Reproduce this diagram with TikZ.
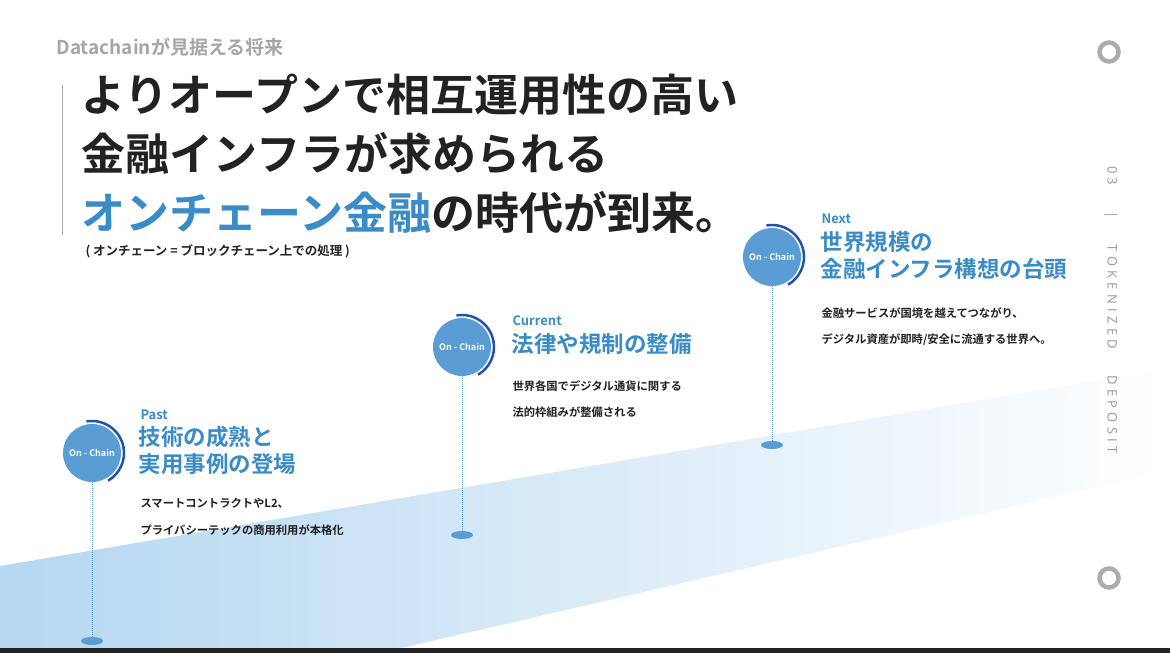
\documentclass[tikz,border=0pt]{standalone}
\usetikzlibrary{shapes.geometric}
\usepackage{fontspec}
\setmainfont{Noto Sans CJK JP}[BoldFont={* Bold}]
\newfontfamily\jpb{Noto Sans CJK JP Bold}
\newfontfamily\lat{Open Sans}
\definecolor{accent}{HTML}{3A8CC8}
\definecolor{ballc}{HTML}{5A9DD5}
\definecolor{ring}{HTML}{2450B0}
\definecolor{txt}{HTML}{222222}
\definecolor{band}{HTML}{B5D7F1}
\begin{document}
\begin{tikzpicture}[x=1pt,y=-1pt,
 ballnode/.style={circle,fill=ballc,minimum size=58pt,inner sep=0pt,text=white,font=\jpb\fontsize{9}{10}\selectfont},
 foot/.style={ellipse,fill=ballc,minimum width=22pt,minimum height=8pt,inner sep=0pt},
 stem/.style={draw=ballc,densely dotted,line width=1pt},
 era/.style={anchor=west,text=accent,font=\jpb\fontsize{13}{14}\selectfont},
 head/.style={anchor=north west,text=accent,align=left,font=\jpb\fontsize{22.5}{27}\selectfont},
 body/.style={anchor=north west,text=txt,align=left,font=\jpb\fontsize{11.3}{26.5}\selectfont}]
\useasboundingbox (0,0) rectangle (1170,653);
\fill[white] (0,0) rectangle (1170,653);
\shade[left color=band,right color=white] (0,566) -- (1170,368) -- (1170,470) -- (380,653) -- (0,653) -- cycle;
\fill[txt] (0,648) rectangle (1170,653);
% header
\node[anchor=west,text=gray!70,font=\jpb\fontsize{19}{20}\selectfont] (sub) at (53,47) {Datachainが見据える将来};
\draw[gray!70,line width=1pt] (62,85) -- (62,235);
\node[anchor=north west,align=left,text=txt,font=\jpb\fontsize{44}{59}\selectfont] (title) at (78,70)
 {よりオープンで相互運用性の高い\\金融インフラが求められる\\{\color{accent}オンチェーン金融}の時代が到来。};
\node[anchor=west,text=txt,font=\jpb\fontsize{12.5}{13}\selectfont] (note) at (82,251) {( オンチェーン = ブロックチェーン上での処理 )};
% right side
\node[rotate=-90,text=gray!80,font=\lat\fontsize{13}{14}\selectfont] (side) at (1111,310) {0\,\,3\qquad|\qquad T\,\,O\,\,K\,\,E\,\,N\,\,I\,\,Z\,\,E\,\,D\qquad D\,\,E\,\,P\,\,O\,\,S\,\,I\,\,T};
\draw[gray!65,line width=4.5pt] (1109,52) circle (9.5pt);
\draw[gray!65,line width=4.5pt] (1109,578) circle (9.5pt);
% Past
\node[ballnode] (b1) at (92,453) {On - Chain};
\draw[ring,line width=2.5pt] ([shift={(92,453)}]100:32pt) arc[start angle=100,end angle=-60,radius=32pt];
\node[foot] (f1) at (92,641) {};
\draw[stem] (b1) -- (f1);
\node[era] (e1) at (137,415) {Past};
\node[head] (h1) at (135,423) {技術の成熟と\\実用事例の登場};
\node[body] (t1) at (137,495) {スマートコントラクトやL2、\\プライバシーテックの商用利用が本格化};
% Current
\node[ballnode] (b2) at (462,347) {On - Chain};
\draw[ring,line width=2.5pt] ([shift={(462,347)}]100:32pt) arc[start angle=100,end angle=-60,radius=32pt];
\node[foot] (f2) at (462,535) {};
\draw[stem] (b2) -- (f2);
\node[era] (e2) at (509,321) {Current};
\node[head] (h2) at (508,330) {法律や規制の整備};
\node[body] (t2) at (509,377) {世界各国でデジタル通貨に関する\\法的枠組みが整備される};
% Next
\node[ballnode] (b3) at (772,257) {On - Chain};
\draw[ring,line width=2.5pt] ([shift={(772,257)}]100:32pt) arc[start angle=100,end angle=-60,radius=32pt];
\node[foot] (f3) at (772,445) {};
\draw[stem] (b3) -- (f3);
\node[era] (e3) at (818,219) {Next};
\node[head] (h3) at (817,228) {世界規模の\\金融インフラ構想の台頭};
\node[body] (t3) at (818,304) {金融サービスが国境を越えてつながり、\\デジタル資産が即時/安全に流通する世界へ。};
\end{tikzpicture}
\end{document}
